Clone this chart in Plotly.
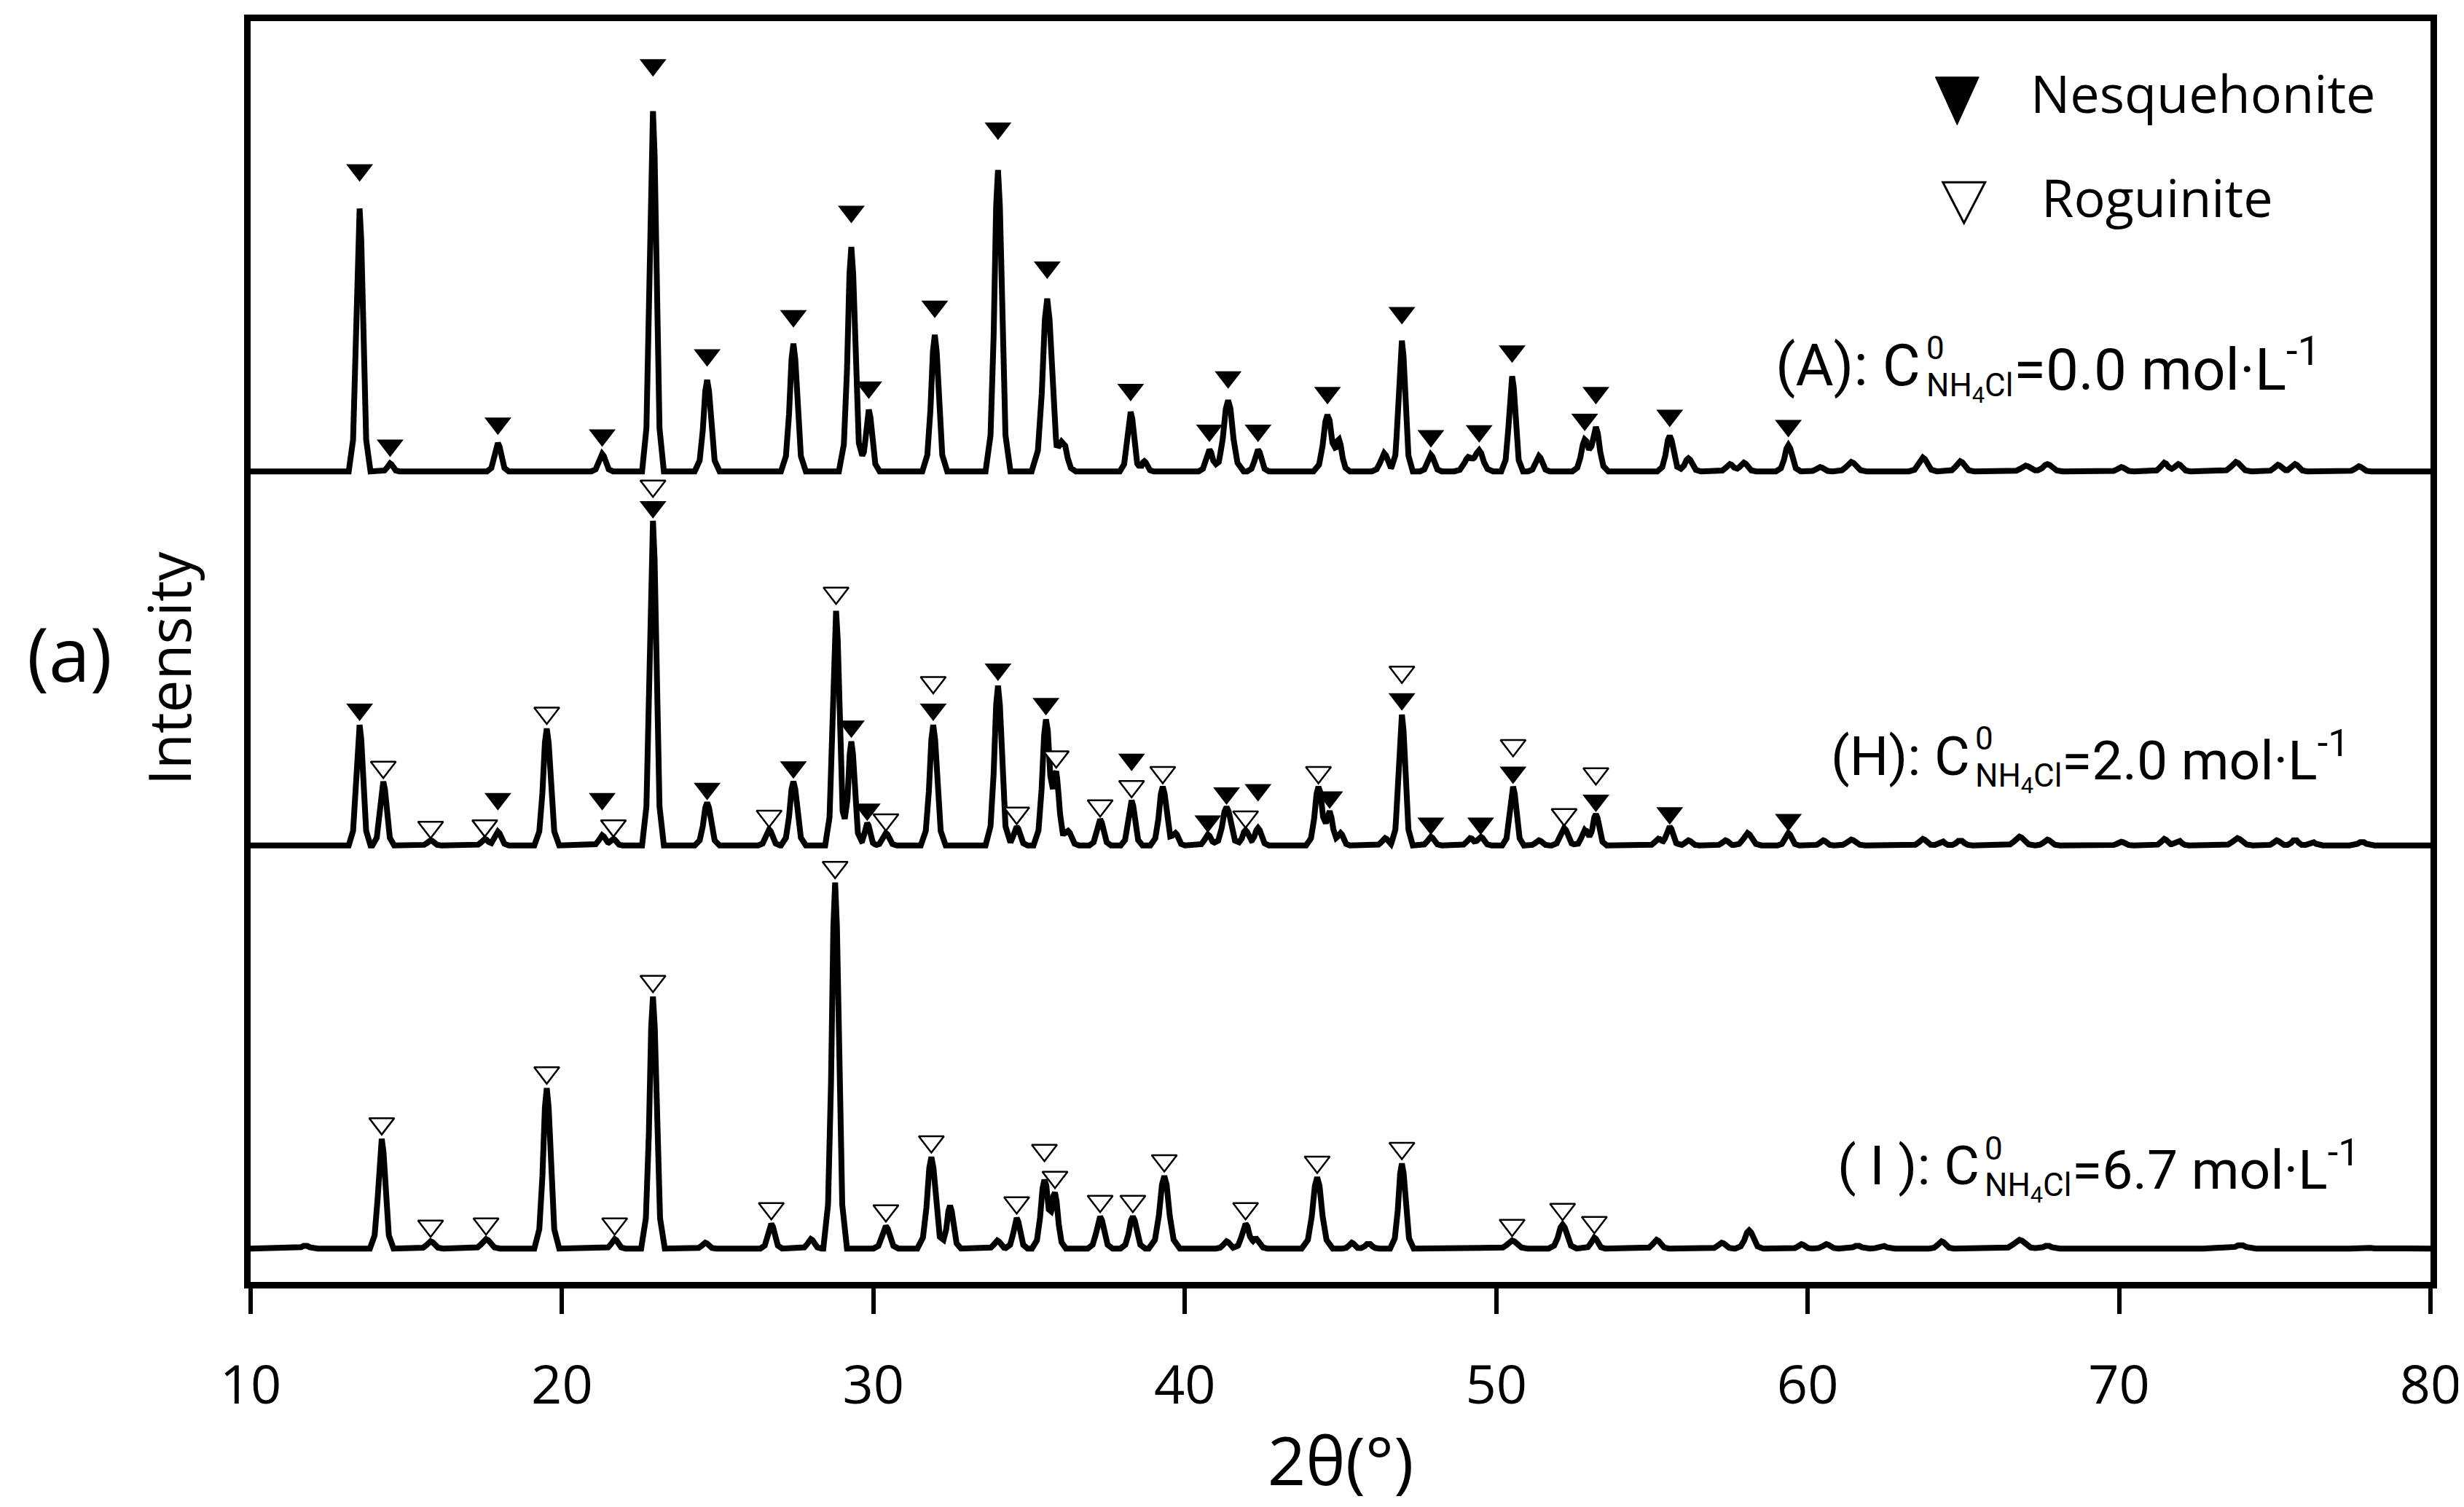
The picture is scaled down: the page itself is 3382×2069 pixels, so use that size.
import numpy as np
import plotly.graph_objects as go

X_RANGE = [10, 80]
X_TICKS = [10, 20, 30, 40, 50, 60, 70, 80]

# (A) C0(NH4Cl) = 0.0 mol/L : peak 2theta, height (a.u.), half base width (deg)
A_POS = [13.50, 14.48, 17.94, 21.29, 22.92, 24.66, 27.43, 29.29, 29.85, 31.97, 34.00, 35.58, 36.10,
         38.26, 38.70, 40.79, 41.39, 42.35, 44.58, 44.95, 46.40, 46.97, 47.90, 49.10, 49.45, 50.51,
         51.37, 52.84, 53.20, 55.57, 56.17, 57.50, 57.95, 59.38, 60.40, 61.40, 63.70, 64.90, 67.00,
         67.70, 70.07, 71.45, 71.90, 73.75, 75.10, 75.65, 77.70]
A_HGT = [362, 11, 39, 24, 496, 126, 176, 309, 85, 188, 415, 238, 40,
         82, 14, 30, 98, 30, 78, 40, 25, 180, 23, 18, 28, 131,
         21, 42, 60, 49, 18, 10, 12, 36, 6, 13, 19, 14, 8,
         10, 6, 12, 10, 13, 9, 10, 7]
A_WID = [0.35, 0.30, 0.35, 0.35, 0.35, 0.40, 0.40, 0.40, 0.35, 0.40, 0.40, 0.50, 0.40,
         0.35, 0.30, 0.35, 0.50, 0.35, 0.45, 0.35, 0.40, 0.35, 0.35, 0.45, 0.45, 0.35,
         0.35, 0.40, 0.40, 0.40, 0.40, 0.40, 0.40, 0.40, 0.40, 0.50, 0.45, 0.45, 0.50,
         0.50, 0.40, 0.40, 0.40, 0.50, 0.40, 0.40, 0.40]

# (H) C0(NH4Cl) = 2.0 mol/L
H_POS = [13.50, 14.26, 15.78, 17.52, 17.94, 19.51, 21.29, 21.65, 22.92, 24.66, 26.65, 27.43, 28.80,
         29.29, 29.80, 30.40, 31.92, 34.00, 34.60, 35.54, 35.87, 36.25, 37.28, 38.29, 39.29, 39.70,
         40.74, 41.34, 41.95, 42.35, 44.29, 44.65, 45.00, 46.43, 46.97, 47.90, 49.16, 49.50, 50.54,
         51.37, 52.18, 52.84, 53.20, 55.20, 55.57, 56.17, 57.36, 58.07, 59.38, 60.50, 61.40, 63.70,
         64.30, 64.90, 66.80, 67.70, 70.07, 71.45, 71.90, 73.80, 75.06, 75.65, 76.20, 77.80]
H_HGT = [166, 88, 7, 9, 19, 161, 14, 9, 447, 59, 22, 88, 323,
         143, 31, 17, 166, 220, 26, 172, 93, 20, 36, 62, 81, 17,
         15, 53, 21, 24, 81, 45, 17, 10, 180, 12, 10, 12, 81,
         7, 24, 21, 43, 9, 26, 7, 7, 17, 17, 7, 8, 9,
         6, 7, 12, 8, 5, 9, 7, 10, 7, 8, 5, 5]
H_WID = [0.35, 0.35, 0.35, 0.35, 0.35, 0.40, 0.35, 0.30, 0.35, 0.40, 0.35, 0.40, 0.35,
         0.35, 0.30, 0.35, 0.40, 0.40, 0.35, 0.40, 0.35, 0.35, 0.35, 0.35, 0.40, 0.30,
         0.35, 0.45, 0.35, 0.35, 0.40, 0.35, 0.30, 0.35, 0.35, 0.35, 0.35, 0.35, 0.35,
         0.35, 0.40, 0.35, 0.35, 0.35, 0.35, 0.35, 0.35, 0.45, 0.35, 0.35, 0.45, 0.40,
         0.35, 0.40, 0.50, 0.40, 0.40, 0.35, 0.35, 0.50, 0.35, 0.35, 0.35, 0.40]

# (I) C0(NH4Cl) = 6.7 mol/L
I_POS = [11.76, 14.21, 15.78, 17.56, 19.51, 21.69, 22.92, 24.60, 26.72, 27.99, 28.77, 30.40, 31.86,
         32.46, 33.98, 34.60, 35.49, 35.83, 37.28, 38.33, 39.34, 41.34, 41.95, 42.30, 44.25, 45.36,
         45.90, 46.97, 50.51, 52.13, 53.15, 55.15, 57.24, 58.12, 59.80, 60.60, 61.60, 62.40, 64.30,
         66.80, 67.70, 73.20, 73.90, 77.90]
I_HGT = [4, 151, 10, 13, 221, 13, 347, 8, 34, 13, 504, 31, 126,
         59, 11, 42, 94, 73, 44, 44, 100, 10, 34, 12, 98, 8,
         7, 117, 11, 33, 15, 12, 8, 25, 6, 6, 4, 4, 10,
         12, 4, 2, 5, 2]
I_WID = [0.40, 0.38, 0.40, 0.45, 0.40, 0.35, 0.38, 0.35, 0.35, 0.35, 0.38, 0.40, 0.45,
         0.35, 0.35, 0.35, 0.40, 0.35, 0.40, 0.40, 0.50, 0.35, 0.40, 0.35, 0.50, 0.30,
         0.35, 0.38, 0.50, 0.45, 0.35, 0.40, 0.40, 0.45, 0.35, 0.40, 0.40, 0.40, 0.40,
         0.60, 0.40, 0.50, 0.50, 0.50]

# phase marks: N = nesquehonite, R = roguinite (later entries stack above earlier ones)
A_MARKS = [(p, 'N') for p in [13.50, 14.48, 17.94, 21.29, 22.92, 24.66, 27.43, 29.29, 29.85, 31.97,
                              34.00, 35.58, 38.26, 40.79, 41.39, 42.35, 44.58, 46.97, 47.90, 49.45,
                              50.51, 52.84, 53.20, 55.57, 59.38]]
H_MARKS = [(13.50, 'N'), (14.26, 'R'), (15.78, 'R'), (17.52, 'R'), (17.94, 'N'), (19.51, 'R'),
           (21.65, 'R'), (21.29, 'N'), (22.92, 'N'), (22.92, 'R'), (24.66, 'N'), (26.65, 'R'),
           (27.43, 'N'), (28.80, 'R'), (29.29, 'N'), (29.80, 'N'), (30.40, 'R'), (31.92, 'N'),
           (31.92, 'R'), (34.00, 'N'), (34.60, 'R'), (35.54, 'N'), (35.87, 'R'), (37.28, 'R'),
           (38.29, 'R'), (38.29, 'N'), (39.29, 'R'), (40.74, 'N'), (41.34, 'N'), (41.95, 'R'),
           (42.35, 'N'), (44.29, 'R'), (44.65, 'N'), (46.97, 'N'), (46.97, 'R'), (47.90, 'N'),
           (49.50, 'N'), (50.54, 'N'), (50.54, 'R'), (52.18, 'R'), (53.20, 'N'), (53.20, 'R'),
           (55.57, 'N'), (59.38, 'N')]
I_MARKS = [(p, 'R') for p in [14.21, 15.78, 17.56, 19.51, 21.69, 22.92, 26.72, 28.77, 30.40, 31.86,
                              34.60, 35.83, 35.49, 37.28, 38.33, 39.34, 41.95, 44.25, 46.97, 50.51,
                              52.13, 53.15]]

# style
OFFSET = {'A': 1116, 'H': 601, 'I': 46}
CEIL = {'A': 1736, 'H': 1116 - 12, 'I': 601 - 12}
GAP = {'A': (8, 0.08), 'H': (2, 0.02), 'I': (5, 0.0)}
MARK_SIZE = 32
STACK = 37
STACK_MIN = 29
SHAPE_DX = [-1.0, -0.6, -0.35, -0.15, 0.0, 0.15, 0.35, 0.6, 1.0]
SHAPE_FR = [0.0, 0.12, 0.45, 0.88, 1.0, 0.88, 0.45, 0.12, 0.0]
TXT_FONT = 'Roboto'
AX_FONT = 'Open Sans'
PX_PER_DEG = 2998 / 70.0


def pattern(pos, hgt, wid):
    xs = {float(X_RANGE[0]), float(X_RANGE[1])}
    for p, w in zip(pos, wid):
        xs.update(round(p + d * w, 4) for d in SHAPE_DX)
    xs = np.array(sorted(xs))
    ys = np.zeros_like(xs)
    for p, h, w in zip(pos, hgt, wid):
        ys += h * np.interp(xs, [p + d * w for d in SHAPE_DX], SHAPE_FR, left=0, right=0)
    return xs, ys


def place_marks(marks, xs, ys, key):
    g0, g1 = GAP[key]
    r = MARK_SIZE / 2
    placed = []
    for a, ph in marks:
        top = float(np.interp(a, xs, ys))
        y = top + g0 + g1 * top + r
        for pa, _, py in placed:
            if abs(pa - a) < 0.43 and abs(py - y) < 25:
                y = max(y, py + STACK)
        ceil = CEIL[key] - OFFSET[key] - r / 2
        if y > ceil:
            y = ceil
            # squeeze the marks below so they stay apart
            for i, (pa, pph, py) in enumerate(placed):
                if abs(pa - a) < 0.43 and py > y - STACK_MIN:
                    placed[i] = (pa, pph, y - STACK_MIN)
        placed.append((a, ph, y))
    return [(a, ph, y + OFFSET[key]) for a, ph, y in placed]


def tri_path(xc, yc, w_px, h_px):
    dx = w_px / 2 / PX_PER_DEG
    return (f'M {xc - dx},{yc + h_px / 2} L {xc + dx},{yc + h_px / 2} '
            f'L {xc},{yc - h_px / 2} Z')


fig = go.Figure()

nx, ny, rx, ry = [], [], [], []
for key, pos, hgt, wid, marks in [('A', A_POS, A_HGT, A_WID, A_MARKS),
                                  ('H', H_POS, H_HGT, H_WID, H_MARKS),
                                  ('I', I_POS, I_HGT, I_WID, I_MARKS)]:
    xs, ys = pattern(pos, hgt, wid)
    fig.add_trace(go.Scatter(x=xs, y=ys + OFFSET[key], mode='lines',
                             line=dict(color='black', width=8), hoverinfo='skip'))
    for a, ph, y in place_marks(marks, xs, ys, key):
        if ph == 'N':
            nx.append(a); ny.append(y)
        else:
            rx.append(a); ry.append(y)

fig.add_trace(go.Scatter(x=nx, y=ny, mode='markers',
                         marker=dict(symbol='triangle-down', size=MARK_SIZE, color='black',
                                     line=dict(width=0))))
fig.add_trace(go.Scatter(x=rx, y=ry, mode='markers',
                         marker=dict(symbol='triangle-down', size=MARK_SIZE - 2, color='white',
                                     line=dict(width=2.5, color='black'))))

# legend symbols
shapes = [
    dict(type='path', xref='x', yref='y', path=tri_path(64.80, 1626, 60, 66),
         fillcolor='black', line=dict(color='black', width=1)),
    dict(type='path', xref='x', yref='y', path=tri_path(65.02, 1486, 58, 56),
         fillcolor='white', line=dict(color='black', width=3)),
]

annotations = [
    dict(x=67.11, y=1638, text='Nesquehonite', xanchor='left', font=dict(family=AX_FONT, size=72)),
    dict(x=67.46, y=1494, text='Roguinite', xanchor='left', font=dict(family=AX_FONT, size=72)),
]

labels = [
    # text, value, right edge of C, sub/sup left, '=' left, centre y, font size
    ('(A): C', '0.0', 63.68, 63.76, 66.58, 1262, 80),
    ('(H): C', '2.0', 65.26, 65.33, 68.12, 724, 75),
    ('( I ): C', '6.7', 65.57, 65.64, 68.45, 160, 75),
]
for head, val, xc, xs_, xe, yc, fs in labels:
    annotations += [
        dict(x=xc, y=yc, text=head, xanchor='right', font=dict(family=TXT_FONT, size=fs)),
        dict(x=xs_, y=yc + 24, text='0', xanchor='left', font=dict(family=TXT_FONT, size=44)),
        dict(x=xs_, y=yc - 30, text='NH<sub>4</sub>Cl', xanchor='left',
             font=dict(family=TXT_FONT, size=44)),
        dict(x=xe, y=yc, text='=' + val + ' mol·L<sup>-1</sup>', xanchor='left',
             font=dict(family=TXT_FONT, size=fs)),
    ]

annotations += [
    dict(xref='paper', yref='paper', x=-0.038, y=0.487, text='Intensity', textangle=-90,
         xanchor='center', font=dict(family=AX_FONT, size=80)),
    dict(xref='paper', yref='paper', x=-0.083, y=0.499, text='(a)', xanchor='center',
         font=dict(family=AX_FONT, size=102)),
]
for a in annotations:
    a.setdefault('xref', 'x')
    a.setdefault('yref', 'y')
    a.setdefault('yanchor', 'middle')
    a['showarrow'] = False
    a['font'].setdefault('color', 'black')

fig.update_layout(
    width=3382, height=2069,
    margin=dict(l=336, r=48, t=17, b=317),
    plot_bgcolor='white', paper_bgcolor='white',
    showlegend=False,
    annotations=annotations,
    shapes=shapes,
)
fig.update_xaxes(
    range=X_RANGE, tickvals=X_TICKS, ticks='outside', ticklen=35, tickwidth=6, tickcolor='black',
    showline=True, linewidth=9, linecolor='black', mirror=True, showgrid=False, zeroline=False,
    tickfont=dict(family=AX_FONT, size=74, color='black'), ticklabelstandoff=34,
    title=dict(text='2θ(°)', font=dict(family=AX_FONT, size=92, color='black'), standoff=30),
)
fig.update_yaxes(
    range=[0, 1736], showticklabels=False, ticks='', showline=True, linewidth=9,
    linecolor='black', mirror=True, showgrid=False, zeroline=False,
)

fig.write_html('out.html')
